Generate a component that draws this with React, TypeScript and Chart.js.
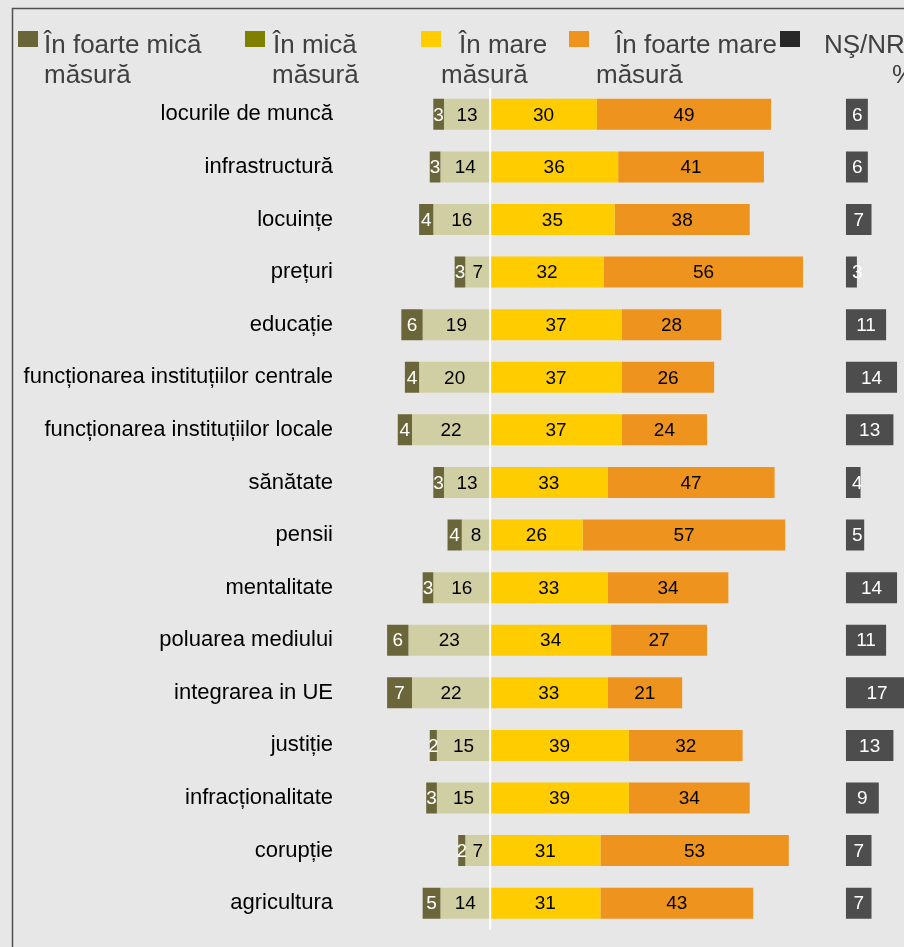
import { useEffect, useRef } from "react";
import { Chart, registerables } from "chart.js";

Chart.register(...registerables);

const categories = [
  "locurile de muncă",
  "infrastructură",
  "locuințe",
  "prețuri",
  "educație",
  "funcționarea instituțiilor centrale",
  "funcționarea instituțiilor locale",
  "sănătate",
  "pensii",
  "mentalitate",
  "poluarea mediului",
  "integrarea in UE",
  "justiție",
  "infracționalitate",
  "corupție",
  "agricultura",
];

const veryLow = [3, 3, 4, 3, 6, 4, 4, 3, 4, 3, 6, 7, 2, 3, 2, 5];
const low = [13, 14, 16, 7, 19, 20, 22, 13, 8, 16, 23, 22, 15, 15, 7, 14];
const high = [30, 36, 35, 32, 37, 37, 37, 33, 26, 33, 34, 33, 39, 39, 31, 31];
const veryHigh = [49, 41, 38, 56, 28, 26, 24, 47, 57, 34, 27, 21, 32, 34, 53, 43];
const dkNa = [6, 6, 7, 3, 11, 14, 13, 4, 5, 14, 11, 17, 13, 9, 7, 7];

const seriesNames = [
  "În foarte mică măsură",
  "În mică măsură",
  "În mare măsură",
  "În foarte mare măsură",
  "NŞ/NR %",
];

const legendLines = [
  ["În foarte mică", "măsură"],
  ["În mică", "măsură"],
  ["În mare", "măsură"],
  ["În foarte mare", "măsură"],
  ["NŞ/NR", "%"],
];

const FONT = "'Liberation Sans', Arial, sans-serif";
const BAR_COLORS = ["#6b6639", "#d0cfa3", "#ffcc00", "#ef931f", "#4d4d4d"];
const LEGEND_COLORS = ["#6b6639", "#808000", "#ffcc00", "#ef931f", "#282828"];
const LABEL_COLORS = ["#ffffff", "#000000", "#000000", "#000000", "#ffffff"];

// legend layout (style only)
const LEG_MARK_X = [18, 245, 421, 569, 780];
const LEG_L1_X = [44, 273, 459, 615, 824];
const LEG_L2_X = [44, 272, 441, 596, 892];

const framePlugin = {
  id: "frame",
  beforeDraw(chart: any) {
    const { ctx, width, height } = chart;
    ctx.save();
    ctx.fillStyle = "#e7e7e7";
    ctx.fillRect(0, 0, width, height);
    ctx.strokeStyle = "#505050";
    ctx.lineWidth = 1.5;
    ctx.beginPath();
    ctx.moveTo(12.5, height);
    ctx.lineTo(12.5, 8.5);
    ctx.lineTo(width, 8.5);
    ctx.stroke();

    ctx.font = `26px ${FONT}`;
    ctx.textAlign = "left";
    ctx.textBaseline = "alphabetic";
    legendLines.forEach((lines, i) => {
      ctx.fillStyle = LEGEND_COLORS[i];
      ctx.fillRect(LEG_MARK_X[i], 31, 20, 16);
      ctx.fillStyle = "#404040";
      ctx.fillText(lines[0], LEG_L1_X[i], 53);
      ctx.fillText(lines[1], LEG_L2_X[i], 83);
    });
    ctx.restore();
  },
};

const labelPlugin = {
  id: "barLabels",
  afterDatasetsDraw(chart: any) {
    const { ctx, chartArea } = chart;
    const x0 = chart.scales.x.getPixelForValue(0);
    ctx.save();
    ctx.strokeStyle = "#ffffff";
    ctx.lineWidth = 2;
    ctx.beginPath();
    ctx.moveTo(x0, chartArea.top);
    ctx.lineTo(x0, chartArea.bottom);
    ctx.stroke();

    ctx.font = `19px ${FONT}`;
    ctx.textAlign = "center";
    ctx.textBaseline = "middle";
    chart.data.datasets.forEach((ds: any, di: number) => {
      const meta = chart.getDatasetMeta(di);
      meta.data.forEach((el: any, i: number) => {
        const text = String(ds.values[i]);
        const { x, base, y } = el.getProps(["x", "base", "y"], true);
        const left = Math.min(x, base);
        const right = Math.max(x, base);
        let cx = (left + right) / 2;
        const tw = ctx.measureText(text).width;
        if (ds.minLabelPad) cx = Math.max(cx, left + tw / 2 + ds.minLabelPad);
        ctx.fillStyle = ds.labelColor;
        ctx.fillText(text, cx, y + 1);
      });
    });
    ctx.restore();
  },
};

export default function App() {
  const ref = useRef<HTMLCanvasElement | null>(null);

  useEffect(() => {
    if (!ref.current) return;
    const common = {
      grouped: false,
      barPercentage: 0.59,
      categoryPercentage: 1,
      borderWidth: 0,
    };
    const chart = new Chart(ref.current, {
      type: "bar",
      data: {
        labels: categories,
        datasets: [
          {
            ...common,
            label: seriesNames[0],
            data: veryLow.map((v, i) => [-(low[i] + v), -low[i]]),
            values: veryLow,
            backgroundColor: BAR_COLORS[0],
            labelColor: LABEL_COLORS[0],
          } as any,
          {
            ...common,
            label: seriesNames[1],
            data: low.map((v) => [-v, 0]),
            values: low,
            backgroundColor: BAR_COLORS[1],
            labelColor: LABEL_COLORS[1],
          } as any,
          {
            ...common,
            label: seriesNames[2],
            data: high.map((v) => [0, v]),
            values: high,
            backgroundColor: BAR_COLORS[2],
            labelColor: LABEL_COLORS[2],
          } as any,
          {
            ...common,
            label: seriesNames[3],
            data: veryHigh.map((v, i) => [high[i], high[i] + v]),
            values: veryHigh,
            backgroundColor: BAR_COLORS[3],
            labelColor: LABEL_COLORS[3],
          } as any,
          {
            ...common,
            label: seriesNames[4],
            xAxisID: "x2",
            data: dkNa.map((v) => [0, v]),
            values: dkNa,
            backgroundColor: BAR_COLORS[4],
            labelColor: LABEL_COLORS[4],
            minLabelPad: 6,
          } as any,
        ],
      },
      options: {
        indexAxis: "y",
        animation: false,
        responsive: false,
        devicePixelRatio: 1,
        layout: { padding: { top: 88, bottom: 17.5, left: 0, right: 0 } },
        plugins: {
          legend: { display: false },
          tooltip: { enabled: false },
        },
        scales: {
          x: { display: false, min: -40, max: 116.4 },
          x2: { display: false, position: "bottom", min: -136.4, max: 15.9 },
          y: {
            type: "category",
            grid: { display: false, drawTicks: false },
            border: { display: false },
            ticks: {
              color: "#000000",
              padding: 15,
              font: { family: FONT, size: 22 },
            },
            afterFit: (scale: any) => {
              scale.width = 348;
              scale.paddingTop = 0;
              scale.paddingBottom = 0;
            },
          },
        },
      } as any,
      plugins: [framePlugin, labelPlugin],
    });
    return () => chart.destroy();
  }, []);

  return (
    <div style={{ position: "absolute", left: 0, top: 0, width: 904, height: 947, background: "#e7e7e7" }}>
      <canvas ref={ref} width={904} height={947} style={{ display: "block" }} />
    </div>
  );
}
